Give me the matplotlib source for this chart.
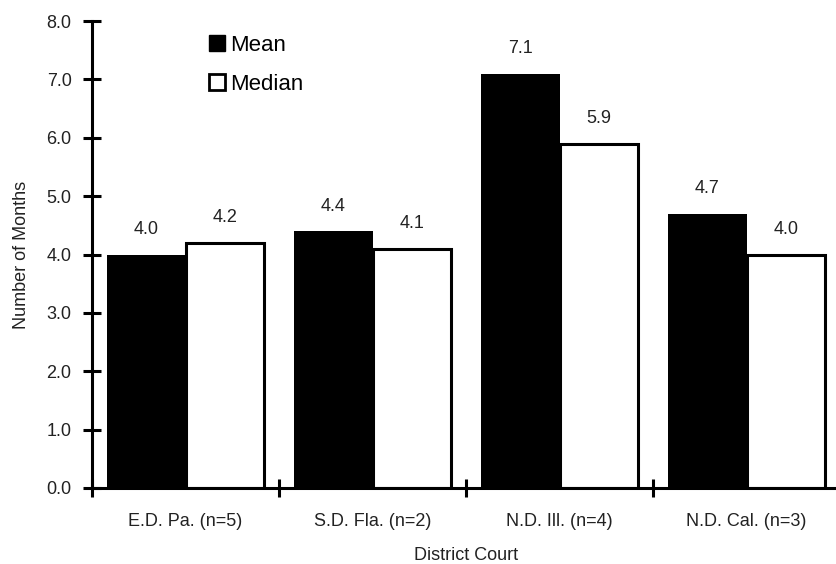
import numpy as np
import matplotlib
matplotlib.use("Agg")
import matplotlib.pyplot as plt
from matplotlib.patches import Patch

plt.rcParams['font.family'] = ['Liberation Sans', 'DejaVu Sans']

# data
courts = ["E.D. Pa. (n=5)", "S.D. Fla. (n=2)", "N.D. Ill. (n=4)", "N.D. Cal. (n=3)"]
mean_months = [4.0, 4.4, 7.1, 4.7]
median_months = [4.2, 4.1, 5.9, 4.0]
yticks = [0, 1, 2, 3, 4, 5, 6, 7, 8]

W, H = 837, 564
fig = plt.figure(figsize=(W / 100, H / 100), dpi=100)
ax = fig.add_axes([92 / W, 1 - 488 / H, 748 / W, (488 - 21) / H])

x = np.arange(len(courts))
bw = 0.42
ax.bar(x - bw / 2, mean_months, bw, color="black", edgecolor="black", linewidth=0)
ax.bar(x + bw / 2, median_months, bw, color="white", edgecolor="black", linewidth=2.2)

for xs, vals in [(x - bw / 2, mean_months), (x + bw / 2, median_months)]:
    for xi, v in zip(xs, vals):
        ax.annotate(f"{v:.1f}", (xi, v), xytext=(0, 18), textcoords="offset points",
                    ha="center", va="center", fontsize=13, color="#222222")

ax.set_xlim(-0.5, 3.5)
ax.set_ylim(0, 8)

# ticks at category boundaries, labels at category centres
ax.set_xticks(x - 0.5)
ax.set_xticklabels([])
ax.set_xticks(x, minor=True)
ax.set_xticklabels(courts, minor=True, fontsize=13, color="#222222")
ax.tick_params(axis="x", which="minor", length=0, pad=18)
ax.tick_params(axis="x", which="major", direction="inout", length=13, width=2.2)

ax.set_yticks(yticks)
ax.set_yticklabels([f"{t:.1f}" for t in yticks], fontsize=13, color="#222222")
ax.tick_params(axis="y", direction="inout", length=13.5, width=2.2, pad=8)

for s in ["top", "right"]:
    ax.spines[s].set_visible(False)
for s in ["left", "bottom"]:
    ax.spines[s].set_linewidth(2.2)

ax.set_ylabel("Number of Months", fontsize=13, color="#222222", labelpad=12)
ax.set_xlabel("District Court", fontsize=13, color="#222222", labelpad=12)

handles = [Patch(facecolor="black", edgecolor="black"),
           Patch(facecolor="white", edgecolor="black", linewidth=2)]
ax.legend(handles, ["Mean", "Median"], loc="upper left",
          bbox_to_anchor=(209 / W, 1 - 35 / H), bbox_transform=fig.transFigure,
          frameon=False, fontsize=16, handlelength=0.7, handleheight=0.7,
          handletextpad=0.25, borderpad=0, borderaxespad=0, labelspacing=0.8)

fig.savefig("out.png", dpi=100)
